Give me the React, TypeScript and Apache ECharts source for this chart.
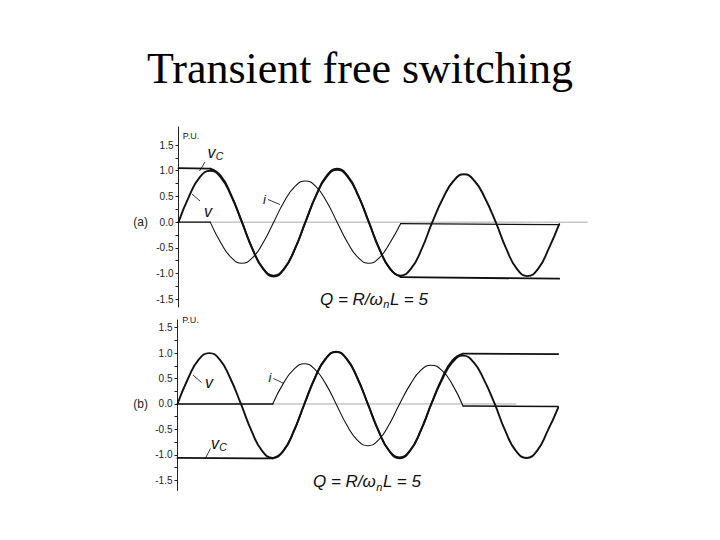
import React, { useEffect, useRef } from "react";
import * as echarts from "echarts";

// phase angle of the source voltage, degrees (x positions of the samples)
const PHASE = [0, 30, 60, 90, 120, 150, 180, 210, 240, 270, 300, 330, 360, 390, 420, 450, 480, 510, 540, 570, 600, 630, 660, 690, 720, 750, 780, 810, 840, 870, 900, 930, 960, 990, 1020, 1050, 1080];

// y-axis tick labels and tick marks
const Y_LABELS = [-1.5, -1.0, -0.5, 0.0, 0.5, 1.0, 1.5];
const Y_TICKS = [-1.5, -1.25, -1.0, -0.75, -0.5, -0.25, 0, 0.25, 0.5, 0.75, 1.0, 1.25, 1.5];

// ---- panel (a) ----
const V_A = [0, 0.5, 0.87, 1.0, 0.87, 0.5, 0, -0.52, -0.9, -1.04, -0.9, -0.52, 0, 0.51, 0.88, 1.02, 0.88, 0.51, 0, -0.52, -0.9, -1.04, -0.9, -0.52, 0, 0.46, 0.8, 0.93, 0.8, 0.46, 0, -0.52, -0.91, -1.05, -0.91, -0.52, -0.04];
const VC_A_WAVE = [1.04, 0.9, 0.52, 0, -0.53, -0.91, -1.06, -0.91, -0.53, 0, 0.52, 0.9, 1.04, 0.9, 0.52, 0, -0.53, -0.91, -1.06]; // 90..630 deg
const I_A_WAVE = [0, -0.4, -0.69, -0.8, -0.69, -0.4, 0, 0.4, 0.69, 0.8, 0.69, 0.4, 0, -0.4, -0.69, -0.8, -0.69, -0.4, -0.03]; // 90..630 deg
const VC_A_BEFORE = [[0, 1.05], [90, 1.04]];
const VC_A_AFTER = [[630, -1.07], [1080, -1.1]];
const I_A_BEFORE = [[0, 0], [90, 0]];
const I_A_AFTER = [[630, -0.03], [1080, -0.05]];
const ZERO_A = [[0, 0], [1160, 0]];

// ---- panel (b) ----
const V_B = [0, 0.5, 0.87, 1.0, 0.87, 0.5, 0, -0.53, -0.92, -1.06, -0.92, -0.53, 0, 0.51, 0.88, 1.02, 0.88, 0.51, 0, -0.52, -0.91, -1.05, -0.91, -0.52, 0, 0.47, 0.82, 0.95, 0.82, 0.47, 0, -0.53, -0.92, -1.06, -0.92, -0.53, -0.07];
const VC_B_WAVE = [-1.07, -0.93, -0.54, 0, 0.52, 0.89, 1.03, 0.89, 0.52, 0, -0.53, -0.92, -1.07, -0.92, -0.53, 0, 0.5, 0.86, 0.99]; // 270..810 deg
const I_B_WAVE = [0, 0.4, 0.68, 0.79, 0.68, 0.4, 0, -0.41, -0.71, -0.82, -0.71, -0.41, 0, 0.38, 0.66, 0.76, 0.66, 0.38, -0.04]; // 270..810 deg
const VC_B_BEFORE = [[0, -1.06], [270, -1.07]];
const VC_B_AFTER = [[810, 0.99], [1080, 0.98]];
const I_B_BEFORE = [[0, 0], [270, 0]];
const I_B_AFTER = [[810, -0.04], [1080, -0.05]];
const ZERO_B = [[0, 0], [960, 0]];

const SANS = '"Liberation Sans", Arial, Helvetica, sans-serif';
const SERIF = '"Liberation Serif", "Times New Roman", serif';
const INK = "#111";

export default function App() {
  const ref = useRef<HTMLDivElement>(null);

  useEffect(() => {
    if (!ref.current) return;
    const chart = echarts.init(ref.current, null, { renderer: "svg" });

    const canvas = document.createElement("canvas");
    const ctx = canvas.getContext("2d")!;
    const measure = (t: string, size: number, italic: boolean) => {
      ctx.font = `${italic ? "italic " : ""}${size}px ${SANS}`;
      return ctx.measureText(t).width;
    };

    const zip = (xs: number[], ys: number[]) => ys.map((y, k) => [xs[k], y]);
    const from = (startDeg: number, ys: number[]) => {
      const s = PHASE.indexOf(startDeg);
      return zip(PHASE.slice(s, s + ys.length), ys);
    };

    const line = (gi: number, data: number[][], width: number, color: string, smooth: boolean, z = 2) => ({
      type: "line",
      xAxisIndex: gi,
      yAxisIndex: gi,
      data,
      symbol: "none",
      showSymbol: false,
      smooth,
      silent: true,
      z,
      lineStyle: { width, color, cap: "round", join: "round" },
    });

    const yAxis = (gi: number, min: number, max: number) => ({
      type: "value",
      gridIndex: gi,
      min,
      max,
      axisLine: { show: true, lineStyle: { color: "#222", width: 1 } },
      axisTick: { show: true, length: 3, customValues: Y_TICKS, lineStyle: { color: "#222", width: 1 } },
      axisLabel: {
        show: true,
        customValues: Y_LABELS,
        formatter: (v: number) => v.toFixed(1),
        fontSize: 10,
        fontFamily: SANS,
        color: "#222",
        margin: 5,
      },
      splitLine: { show: false },
    });

    const xAxis = (gi: number) => ({ type: "value", gridIndex: gi, min: 0, max: 1200, show: false });

    const txt = (text: string, x: number, y: number, size: number, opts: any = {}) => ({
      type: "text",
      x,
      y,
      silent: true,
      style: {
        text,
        fontSize: size,
        fontFamily: SANS,
        fontStyle: opts.italic ? "italic" : "normal",
        fill: opts.fill || INK,
        align: opts.align || "center",
        verticalAlign: "middle",
      },
    });
    const leader = (x1: number, y1: number, x2: number, y2: number) => ({
      type: "line",
      silent: true,
      shape: { x1, y1, x2, y2 },
      style: { stroke: "#222", lineWidth: 0.9 },
    });
    const qLabel = (x: number, y: number) => {
      const p1 = "Q = R/\u03c9";
      const p2 = "n";
      const p3 = "L = 5";
      const w1 = measure(p1, 17, true);
      const w2 = measure(p2, 11, true);
      return [
        txt(p1, x, y, 17, { italic: true, align: "left" }),
        txt(p2, x + w1 + 0.5, y + 5, 11, { italic: true, align: "left" }),
        txt(p3, x + w1 + w2 + 1, y, 17, { italic: true, align: "left" }),
      ];
    };

    const option: any = {
      animation: false,
      backgroundColor: "#fff",
      grid: [
        { left: 178.5, top: 127, width: 423, height: 180 },
        { left: 177.5, top: 320, width: 423, height: 170.5 },
      ],
      xAxis: [xAxis(0), xAxis(1)],
      yAxis: [yAxis(0, -1.65, 1.85), yAxis(1, -1.7, 1.65)],
      series: [
        // panel (a)
        line(0, ZERO_A, 1, "#aaa", false, 1),
        line(0, I_A_BEFORE, 1.3, INK, false),
        line(0, from(90, I_A_WAVE), 1.1, INK, true),
        line(0, I_A_AFTER, 1.3, INK, false),
        line(0, VC_A_BEFORE, 1.8, INK, false),
        line(0, from(90, VC_A_WAVE), 1.8, INK, true),
        line(0, VC_A_AFTER, 1.8, INK, false),
        line(0, zip(PHASE, V_A), 1.9, INK, true, 3),
        // panel (b)
        line(1, ZERO_B, 1, "#aaa", false, 1),
        line(1, I_B_BEFORE, 1.3, INK, false),
        line(1, from(270, I_B_WAVE), 1.1, INK, true),
        line(1, I_B_AFTER, 1.3, INK, false),
        line(1, VC_B_BEFORE, 1.8, INK, false),
        line(1, from(270, VC_B_WAVE), 1.8, INK, true),
        line(1, VC_B_AFTER, 1.8, INK, false),
        line(1, zip(PHASE, V_B), 1.9, INK, true, 3),
      ],
      graphic: [
        {
          type: "text",
          x: 360,
          y: 68,
          silent: true,
          style: {
            text: "Transient free switching",
            fontSize: 44,
            fontFamily: SERIF,
            fill: "#000",
            align: "center",
            verticalAlign: "middle",
          },
        },
        // panel (a) annotations
        txt("P.U.", 191, 135.5, 9, { fill: "#222" }),
        txt("(a)", 148, 222, 12, { align: "right", fill: "#222" }),
        txt("v", 211.5, 152, 16, { italic: true }),
        txt("C", 219.5, 156, 10.5, { italic: true }),
        leader(199.5, 171, 205, 162),
        txt("v", 208, 211, 16, { italic: true }),
        leader(192, 194, 200, 201),
        txt("i", 264.5, 199, 13, { italic: true }),
        leader(268, 199.5, 280, 204.5),
        ...qLabel(320, 299),
        // panel (b) annotations
        txt("P.U.", 190.5, 320, 9, { fill: "#222" }),
        txt("(b)", 148, 404, 12, { align: "right", fill: "#222" }),
        txt("v", 209, 382, 16, { italic: true }),
        leader(193, 375, 201.5, 382.5),
        txt("v", 215, 443, 16, { italic: true }),
        txt("C", 223, 447, 10.5, { italic: true }),
        leader(205, 459, 210.5, 448.5),
        txt("i", 270, 377, 13, { italic: true }),
        leader(273.5, 378.5, 284, 383.5),
        ...qLabel(313, 481.5),
      ],
    };

    chart.setOption(option);
    return () => chart.dispose();
  }, []);

  return (
    <div
      ref={ref}
      style={{ position: "fixed", left: 0, top: 0, width: 720, height: 540, background: "#fff" }}
    />
  );
}
